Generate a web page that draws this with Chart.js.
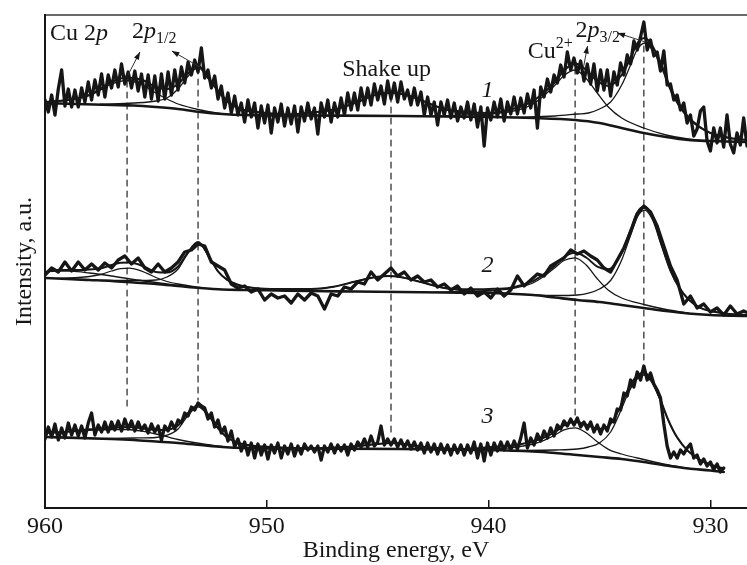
<!DOCTYPE html>
<html>
<head>
<meta charset="utf-8">
<script src="https://cdn.jsdelivr.net/npm/chart.js@4.4.1/dist/chart.umd.min.js"></script>
<style>
  html, body { margin: 0; padding: 0; background: #fff; }
  canvas { display: block; }
</style>
</head>
<body>
<canvas id="xps" width="747" height="565"></canvas>
<script>
// Cu 2p XPS spectra, three samples stacked (intensity in arbitrary units incl. offset)

const xMin = 928.35;
const xMax = 960;
const xTicks = [960, 950, 940, 930];

// energy grids of the measured spectra, eV
const energyFine = [960, 959.85, 959.7, 959.55, 959.4, 959.25, 959.1, 958.95, 958.8, 958.65,
  958.5, 958.35, 958.2, 958.05, 957.9, 957.75, 957.6, 957.45, 957.3, 957.15,
  957, 956.85, 956.7, 956.55, 956.4, 956.25, 956.1, 955.95, 955.8, 955.65,
  955.5, 955.35, 955.2, 955.05, 954.9, 954.75, 954.6, 954.45, 954.3, 954.15,
  954, 953.85, 953.7, 953.55, 953.4, 953.25, 953.1, 952.95, 952.8, 952.65,
  952.5, 952.35, 952.2, 952.05, 951.9, 951.75, 951.6, 951.45, 951.3, 951.15,
  951, 950.85, 950.7, 950.55, 950.4, 950.25, 950.1, 949.95, 949.8, 949.65,
  949.5, 949.35, 949.2, 949.05, 948.9, 948.75, 948.6, 948.45, 948.3, 948.15,
  948, 947.85, 947.7, 947.55, 947.4, 947.25, 947.1, 946.95, 946.8, 946.65,
  946.5, 946.35, 946.2, 946.05, 945.9, 945.75, 945.6, 945.45, 945.3, 945.15,
  945, 944.85, 944.7, 944.55, 944.4, 944.25, 944.1, 943.95, 943.8, 943.65,
  943.5, 943.35, 943.2, 943.05, 942.9, 942.75, 942.6, 942.45, 942.3, 942.15,
  942, 941.85, 941.7, 941.55, 941.4, 941.25, 941.1, 940.95, 940.8, 940.65,
  940.5, 940.35, 940.2, 940.05, 939.9, 939.75, 939.6, 939.45, 939.3, 939.15,
  939, 938.85, 938.7, 938.55, 938.4, 938.25, 938.1, 937.95, 937.8, 937.65,
  937.5, 937.35, 937.2, 937.05, 936.9, 936.75, 936.6, 936.45, 936.3, 936.15,
  936, 935.85, 935.7, 935.55, 935.4, 935.25, 935.1, 934.95, 934.8, 934.65,
  934.5, 934.35, 934.2, 934.05, 933.9, 933.75, 933.6, 933.45, 933.3, 933.15,
  933, 932.85, 932.7, 932.55, 932.4, 932.25, 932.1, 931.95, 931.8, 931.65,
  931.5, 931.35, 931.2, 931.05, 930.9, 930.75, 930.6, 930.45, 930.3, 930.15,
  930, 929.85, 929.7, 929.55, 929.4, 929.25, 929.1, 928.95, 928.8, 928.65,
  928.5, 928.35, 928.2];
const energyCoarse = [960, 959.7, 959.4, 959.1, 958.8, 958.5, 958.2, 957.9, 957.6, 957.3,
  957, 956.7, 956.4, 956.1, 955.8, 955.5, 955.2, 954.9, 954.6, 954.3,
  954, 953.7, 953.4, 953.1, 952.8, 952.5, 952.2, 951.9, 951.6, 951.3,
  951, 950.7, 950.4, 950.1, 949.8, 949.5, 949.2, 948.9, 948.6, 948.3,
  948, 947.7, 947.4, 947.1, 946.8, 946.5, 946.2, 945.9, 945.6, 945.3,
  945, 944.7, 944.4, 944.1, 943.8, 943.5, 943.2, 942.9, 942.6, 942.3,
  942, 941.7, 941.4, 941.1, 940.8, 940.5, 940.2, 939.9, 939.6, 939.3,
  939, 938.7, 938.4, 938.1, 937.8, 937.5, 937.2, 936.9, 936.6, 936.3,
  936, 935.7, 935.4, 935.1, 934.8, 934.5, 934.2, 933.9, 933.6, 933.3,
  933, 932.7, 932.4, 932.1, 931.8, 931.5, 931.2, 930.9, 930.6, 930.3,
  930, 929.7, 929.4, 929.1, 928.8, 928.5, 928.2];

// measured intensities (spectra 1 and 3 on the fine grid, 2 on the coarse grid)
const raw1 = [408, 396, 413, 393, 419, 438, 402, 419, 401, 418,
  401, 420, 406, 426, 408, 428, 413, 434, 411, 433,
  420, 438, 421, 444, 424, 436, 420, 437, 417, 434,
  411, 433, 409, 432, 407, 434, 409, 436, 413, 438,
  418, 441, 425, 446, 433, 448, 436, 460, 430, 438,
  420, 432, 409, 422, 400, 415, 395, 412, 393, 405,
  386, 408, 391, 405, 380, 402, 385, 403, 375, 400,
  386, 404, 382, 400, 384, 402, 376, 401, 387, 405,
  389, 400, 374, 405, 391, 408, 386, 405, 391, 410,
  393, 415, 398, 415, 398, 420, 403, 420, 403, 424,
  408, 422, 404, 427, 409, 425, 406, 426, 409, 418,
  403, 420, 403, 416, 393, 411, 393, 406, 383, 406,
  393, 408, 390, 405, 387, 401, 390, 406, 388, 404,
  381, 401, 362, 400, 388, 406, 391, 409, 387, 406,
  394, 411, 394, 410, 395, 414, 400, 418, 380, 421,
  411, 429, 416, 433, 425, 443, 431, 456, 438, 450,
  435, 447, 427, 444, 424, 444, 417, 438, 418, 438,
  412, 436, 423, 445, 433, 453, 444, 467, 458, 471,
  486, 458, 468, 452, 456, 437, 457, 423, 424, 408,
  413, 398, 405, 385, 393, 372, 379, 397, 401, 367,
  357, 380, 365, 380, 361, 393, 364, 355, 375, 363,
  390, 362, 372];
const raw2 = [233, 240, 236, 246, 237, 246, 238, 244, 238, 245,
  240, 248, 252, 244, 250, 240, 236, 244, 236, 240,
  246, 256, 258, 264, 262, 246, 242, 238, 224, 220,
  222, 216, 219, 208, 214, 210, 212, 205, 214, 208,
  215, 212, 199, 214, 212, 221, 219, 226, 224, 236,
  228, 234, 240, 232, 236, 228, 232, 226, 228, 221,
  224, 218, 222, 214, 220, 212, 216, 210, 219, 212,
  218, 232, 222, 228, 234, 232, 242, 246, 250, 258,
  254, 257, 252, 248, 240, 236, 248, 260, 276, 294,
  302, 296, 282, 262, 242, 228, 204, 212, 200, 204,
  196, 200, 193, 202, 194, 197, 194];
const raw3 = [69, 81, 71, 84, 68, 80, 70, 85, 73, 83,
  72, 82, 70, 85, 95, 73, 83, 76, 86, 76,
  86, 78, 87, 77, 89, 79, 87, 77, 86, 78,
  83, 75, 84, 76, 82, 68, 82, 77, 86, 79,
  88, 85, 95, 92, 101, 98, 105, 102, 100, 89,
  95, 81, 88, 75, 81, 67, 77, 61, 69, 57,
  66, 53, 65, 50, 64, 53, 63, 49, 63, 55,
  65, 50, 62, 54, 64, 52, 62, 54, 64, 58,
  62, 56, 62, 48, 62, 56, 64, 55, 63, 57,
  63, 53, 64, 58, 66, 61, 69, 61, 72, 62,
  66, 82, 63, 69, 63, 69, 61, 68, 60, 67,
  59, 66, 58, 65, 55, 65, 56, 64, 54, 64,
  55, 63, 53, 63, 55, 63, 53, 63, 55, 66,
  50, 64, 47, 65, 53, 65, 57, 66, 58, 66,
  58, 67, 59, 70, 85, 60, 70, 63, 74, 67,
  77, 70, 80, 72, 83, 79, 87, 82, 89, 83,
  90, 81, 86, 79, 86, 76, 83, 74, 83, 77,
  89, 86, 99, 98, 115, 112, 128, 121, 136, 128,
  142, 128, 135, 124, 118, 110, 84, 62, 50, 56,
  50, 58, 54, 60, 64, 50, 53, 44, 49, 42,
  46, 38, 44, 36, 40];

// fitted curves, [energy, intensity]
const bg1 = [[960, 405], [957, 403], [956, 402.5], [955, 401], [954, 399], [953, 396], [952, 394], [951, 393], [948, 392.5], [944, 392], [940, 391], [938, 390], [936.1, 388], [935, 385], [934, 380], [933, 375], [932, 371], [931, 368], [930, 367], [928.3, 366]];
const s1Peak956 = [[960, 406], [959, 408], [958, 412.5], [957.5, 418], [957, 424], [956.3, 427.5], [955.6, 423], [955, 415], [954.5, 409], [954, 404], [953, 398], [952, 394]];
const s1Peak953 = [[957.5, 403.8], [956, 405], [955, 407], [954.5, 410], [954, 419], [953.6, 430.5], [953.1, 440.5], [952.6, 428], [952.1, 414], [951.6, 403.5], [951, 398], [950, 394.8], [949, 393]];
const s1Shake = [[950, 392.9], [949, 393.5], [948, 395.5], [947, 398.3], [946.5, 401.2], [946, 405.2], [945.5, 410.1], [945, 413.6], [944.4, 415], [943.8, 413.5], [943.3, 410], [942.8, 405], [942.3, 400.8], [941.8, 397.7], [941, 394.3], [940, 392], [939, 390.6]];
const s1Cu2 = [[942.5, 391.6], [941, 393.2], [940, 394], [939, 396.5], [938.5, 399.2], [938, 404], [937.5, 412.5], [937, 423], [936.6, 432.5], [936.1, 438], [935.6, 429.5], [935.1, 415], [934.6, 401], [934, 390], [933, 380], [932, 373], [931, 369], [930, 367.2]];
const s1Cu1 = [[939, 390.5], [937, 392], [936, 394], [935.5, 395], [935, 399], [934.5, 406], [934, 423], [933.6, 443], [933.3, 458.5], [932.95, 465], [932.6, 457.5], [932.2, 440], [931.8, 417.5], [931.4, 401], [931, 390], [930.5, 380.5], [930, 375], [929.5, 371.8], [929, 369.5], [928.3, 368]];
const s1Env = [[960, 406], [959, 408], [958, 413], [957, 426], [956.3, 430.5], [955.6, 428], [955, 421], [954.5, 419], [954, 424], [953.6, 433.5], [953.1, 442.5], [952.6, 429], [952.1, 414.5], [951.6, 403.5], [951, 398], [950, 395], [949, 393.5], [948, 395.5], [947, 398.3], [946, 405.2], [945, 413.6], [944.4, 415], [943.8, 413.5], [943, 407.5], [942, 399], [941, 396], [940, 395], [939, 398.5], [938.5, 401.7], [938, 407], [937.5, 415.5], [937, 426], [936.6, 437.5], [936.1, 444.5], [935.6, 438], [935.1, 427], [934.6, 422], [934, 433], [933.6, 450], [933.3, 464.5], [932.95, 470], [932.6, 461.5], [932.2, 443], [931.8, 420], [931.4, 403], [931, 391], [930.5, 381.5], [930, 375], [929.5, 371.8], [929, 369.5], [928.3, 368]];

const bg2 = [[960, 230], [959, 229], [958, 228], [957, 227], [956, 225.5], [955, 224], [954, 222], [953, 220], [952, 218.5], [951, 218], [950, 217.7], [948, 217], [946, 216.5], [944, 216], [942, 215.5], [940, 215], [939, 214.2], [938, 213], [937, 210.5], [936, 208], [935, 206], [934, 203], [933, 200], [932, 197], [931, 194.5], [930, 193], [929, 192.3], [928.3, 192]];
const s2Peak958 = [[960, 236], [959.5, 237], [958.8, 236.8], [958, 235], [957, 232], [956, 228.5], [955, 225.5], [954, 222.5]];
const s2Peak956 = [[959.5, 229.7], [958.5, 230.5], [958, 231.5], [957.5, 233.5], [957, 237], [956.6, 239.4], [956.2, 239.8], [955.8, 238.2], [955.4, 234.6], [955, 230.5], [954.5, 226.5], [954, 224], [953, 220.5]];
const s2Peak953 = [[957.5, 227.6], [956, 227.5], [955, 228], [954.5, 231], [954, 239], [953.6, 253.2], [953.1, 265.2], [952.6, 251.2], [952.2, 236.6], [951.8, 228.4], [951.3, 223.2], [950.5, 219.8], [949.5, 218.5], [948.5, 217.2]];
const s2Shake = [[950.5, 217.8], [949, 218.3], [948, 219], [947, 221.2], [946.5, 223.6], [946, 226.5], [945.5, 229.4], [945, 231.2], [944.5, 232.1], [944, 231], [943.5, 228.9], [943, 225.7], [942.5, 222.6], [942, 220], [941, 217.2], [940, 216], [938.8, 214]];
const s2Cu2 = [[942.5, 215.6], [941, 216.7], [940, 217.5], [939, 219.2], [938.5, 221.6], [938, 225], [937.5, 231.7], [937, 240.5], [936.6, 247.5], [936.1, 250.2], [935.6, 243], [935.1, 229.3], [934.6, 217.8], [934, 210], [933, 203.5], [932, 198.5], [931, 195]];
const s2Cu1 = [[938.5, 213.7], [937, 212.5], [936, 213], [935.5, 214.8], [935, 219], [934.5, 227.5], [934, 248], [933.6, 272.8], [933.3, 290.9], [932.97, 297.9], [932.6, 287.8], [932.2, 261.6], [931.8, 236.5], [931.4, 219.5], [931, 208.5], [930.5, 200.7], [930, 197], [929.5, 195.1], [929, 193.8], [928.3, 193]];
const s2Env = [[960, 236], [959.5, 238], [959, 238], [958.5, 238], [958, 238.5], [957.5, 239.5], [957, 243], [956.6, 245.3], [956.2, 245.4], [955.8, 243.8], [955.4, 240], [955, 236], [954.5, 235.5], [954, 241.5], [953.6, 254.2], [953.1, 266], [952.6, 251.2], [952.2, 236.6], [951.8, 228.4], [951.3, 223.2], [950.5, 219.8], [949.5, 219], [948, 219], [947, 221.2], [946, 226.5], [945, 231.2], [944.5, 232.1], [944, 231], [943, 225.7], [942, 220], [941, 218.7], [940, 219], [939, 220.2], [938.5, 223.1], [938, 226.8], [937.5, 233.9], [937, 242.5], [936.6, 251], [936.1, 255.2], [935.6, 250.5], [935.1, 241.3], [934.6, 238.8], [934, 255], [933.6, 278.3], [933.3, 295.4], [932.97, 301.4], [932.6, 290.8], [932.2, 263.6], [931.8, 238], [931.4, 220.5], [931, 209], [930.5, 200.7], [930, 197], [929.5, 195.1], [929, 193.8], [928.3, 193]];

const bg3 = [[960, 71], [957, 69], [956, 68], [955, 66.5], [954, 65], [953, 63], [952, 61], [951, 60], [948, 59.5], [944, 59], [940, 58], [938, 56.5], [937, 55], [936, 53], [935, 51], [934, 49], [933, 46], [932, 42.5], [931, 39.5], [930, 37.5], [929.4, 36]];
const s3Peak956 = [[960, 75], [959, 76.3], [958, 77.7], [957, 78.5], [956.3, 78.5], [955.5, 76.3], [955, 74], [954.5, 71.3], [954, 68.5], [953, 64.5], [952, 61.5]];
const s3Peak953 = [[957.5, 69.3], [956, 70], [955, 70.5], [954.5, 72.8], [954, 79], [953.6, 91.2], [953.1, 101.2], [952.6, 91.2], [952.2, 79.4], [951.8, 70.8], [951.3, 65.3], [950.5, 61.9], [949.5, 60.7], [948.5, 59.6]];
const s3Shake = [[948.5, 59.6], [947, 60.4], [946, 61.7], [945, 64.1], [944.4, 65], [943.8, 63.9], [943, 61.2], [942, 59.5], [940.8, 58.2]];
const s3Cu2 = [[941.5, 58.4], [940, 59.5], [939, 60.2], [938.5, 61.8], [938, 64], [937.5, 67.7], [937, 73], [936.6, 78.2], [936.1, 80.2], [935.6, 75.2], [935.1, 66.2], [934.6, 58.7], [934, 54], [933, 48.5], [932, 43.5], [931, 39.7]];
const s3Cu1 = [[939, 57.6], [937, 58], [936, 59], [935.5, 61], [935, 65], [934.5, 76], [934.1, 94.2], [933.7, 115.1], [933.35, 128], [933, 133], [932.65, 125.8], [932.3, 109.5], [931.9, 87.2], [931.5, 70], [931, 56.5], [930.5, 48.5], [930, 43.5], [929.4, 38.5]];
const s3Env = [[960, 75], [959, 76.3], [958, 78.7], [957, 80], [956.3, 81], [955.5, 79.3], [955, 78], [954.5, 78.3], [954, 82.5], [953.6, 93.7], [953.1, 102.8], [952.6, 92.2], [952.2, 80], [951.8, 70.8], [951.3, 65.3], [950.5, 61.9], [949.5, 60.7], [948, 59.5], [947, 60.4], [946, 61.7], [945, 64.1], [944.4, 65], [943.8, 63.9], [943, 61.2], [942, 59.5], [941, 59], [940, 60.8], [939, 62.2], [938.5, 64.1], [938, 66.6], [937.5, 70.5], [937, 76], [936.6, 82.7], [936.1, 86], [935.6, 83.6], [935.1, 79.2], [934.6, 81.7], [934.1, 99.4], [933.7, 119.1], [933.35, 131.3], [933, 135.5], [932.65, 127.8], [932.3, 111], [931.9, 88.2], [931.5, 70.7], [931, 56.9], [930.5, 48.5], [930, 43.5], [929.4, 39.5]];

// dashed peak markers
const markerEnergy = [956.3, 953.1, 944.4, 936.1, 933.0];
const markerTop = [427, 440, 412, 440, 462];
const markerBottom = [97, 108, 73, 88, 148];

const ink = "#161616";
const serif = "'Liberation Serif', 'Times New Roman', serif";

const toPts = (pairs) => pairs.map((p) => ({ x: p[0], y: p[1] }));
const zipPts = (grid, vals) => vals.map((v, i) => ({ x: grid[i], y: v }));

const datasets = [];
function addRaw(grid, vals) {
  datasets.push({ data: zipPts(grid, vals), borderColor: ink, borderWidth: 3.3, tension: 0, order: 1 });
}
function addFit(pairs, width) {
  datasets.push({ data: toPts(pairs), borderColor: ink, borderWidth: width, cubicInterpolationMode: "monotone", order: 2 });
}

addRaw(energyFine, raw1);
addRaw(energyCoarse, raw2);
addRaw(energyFine, raw3);
[s1Env, s2Env, s3Env].forEach((d) => addFit(d, 2));
[bg1, bg2, bg3].forEach((d) => addFit(d, 2.6));
[s1Peak956, s1Peak953, s1Shake, s1Cu2, s1Cu1,
 s2Peak958, s2Peak956, s2Peak953, s2Shake, s2Cu2, s2Cu1,
 s3Peak956, s3Peak953, s3Shake, s3Cu2, s3Cu1].forEach((d) => addFit(d, 1.3));

markerEnergy.forEach((e, i) => {
  datasets.push({
    data: [{ x: e, y: markerTop[i] }, { x: e, y: markerBottom[i] }],
    borderColor: "#222", borderWidth: 1.2, borderDash: [6, 5], order: 5,
  });
});

// labels: [energy, intensity] of the text anchor
const notes = [
  { at: [959.77, 468], align: "left", parts: [["Cu 2", 24, 0, false], ["p", 24, 0, true]] },
  { at: [956.08, 470], align: "left", parts: [["2", 24, 0, false], ["p", 24, 0, true], ["1/2", 16, 5, false]] },
  { at: [944.6, 432], align: "center", parts: [["Shake up", 24, 0, false]] },
  { at: [940.05, 411], align: "center", parts: [["1", 24, 0, true]] },
  { at: [938.24, 450], align: "left", parts: [["Cu", 24, 0, false], ["2+", 16, -10, false]] },
  { at: [936.08, 471], align: "left", parts: [["2", 24, 0, false], ["p", 24, 0, true], ["3/2", 16, 5, false]] },
  { at: [940.05, 236], align: "center", parts: [["2", 24, 0, true]] },
  { at: [940.05, 85], align: "center", parts: [["3", 24, 0, true]] },
];
// arrows: from [energy, intensity] to [energy, intensity]
const arrows = [
  [[956.26, 433], [955.72, 456]],
  [[953.02, 441], [954.28, 457]],
  [[935.72, 441], [935.54, 462]],
  [[932.93, 466], [934.19, 475]],
];

const notesPlugin = {
  id: "notes",
  afterDatasetsDraw(chart) {
    const { ctx, scales } = chart;
    const px = (e) => scales.x.getPixelForValue(e);
    const py = (v) => scales.y.getPixelForValue(v);
    ctx.save();
    ctx.fillStyle = ink;
    ctx.textBaseline = "alphabetic";
    notes.forEach((n) => {
      const widths = n.parts.map((p) => {
        ctx.font = (p[3] ? "italic " : "") + p[1] + "px " + serif;
        return ctx.measureText(p[0]).width;
      });
      const total = widths.reduce((a, b) => a + b, 0);
      let x = px(n.at[0]);
      if (n.align === "center") x -= total / 2;
      const y = py(n.at[1]);
      ctx.textAlign = "left";
      n.parts.forEach((p, i) => {
        ctx.font = (p[3] ? "italic " : "") + p[1] + "px " + serif;
        ctx.fillText(p[0], x, y + p[2]);
        x += widths[i];
      });
    });
    ctx.strokeStyle = "#333";
    ctx.lineWidth = 1;
    arrows.forEach((a) => {
      const x1 = px(a[0][0]), y1 = py(a[0][1]);
      const x2 = px(a[1][0]), y2 = py(a[1][1]);
      ctx.beginPath();
      ctx.moveTo(x1, y1);
      ctx.lineTo(x2, y2);
      ctx.stroke();
      const ang = Math.atan2(y2 - y1, x2 - x1);
      ctx.beginPath();
      ctx.moveTo(x2, y2);
      ctx.lineTo(x2 - 8 * Math.cos(ang - 0.35), y2 - 8 * Math.sin(ang - 0.35));
      ctx.lineTo(x2 - 8 * Math.cos(ang + 0.35), y2 - 8 * Math.sin(ang + 0.35));
      ctx.closePath();
      ctx.fill();
    });
    ctx.restore();
  },
};

new Chart(document.getElementById("xps").getContext("2d"), {
  type: "line",
  data: { datasets },
  options: {
    responsive: false,
    animation: false,
    devicePixelRatio: 1,
    layout: { padding: 0 },
    elements: {
      point: { radius: 0, hoverRadius: 0 },
      line: { borderJoinStyle: "round", borderCapStyle: "round", fill: false },
    },
    scales: {
      x: {
        type: "linear",
        position: "bottom",
        reverse: true,
        min: xMin,
        max: xMax,
        afterBuildTicks: (scale) => { scale.ticks = xTicks.map((v) => ({ value: v })); },
        afterFit: (scale) => { scale.height = 57; },
        ticks: { color: ink, font: { family: serif, size: 24 }, padding: 12, maxRotation: 0, autoSkip: false },
        grid: { display: true, drawOnChartArea: false, drawTicks: true, tickLength: -8, color: ink, lineWidth: 1.5 },
        border: { display: true, color: ink, width: 2 },
        title: { display: true, text: "Binding energy, eV", color: ink, font: { family: serif, size: 24 }, padding: { top: 0, bottom: 0 } },
      },
      xTop: {
        type: "linear",
        position: "top",
        reverse: true,
        min: xMin,
        max: xMax,
        afterFit: (scale) => { scale.height = 15; },
        ticks: { display: false },
        grid: { display: false },
        border: { display: true, color: "#6a6a6a", width: 2 },
      },
      y: {
        type: "linear",
        min: 0,
        max: 493,
        afterFit: (scale) => { scale.width = 45; },
        ticks: { display: false },
        grid: { display: false },
        border: { display: true, color: ink, width: 2 },
        title: { display: true, text: "Intensity, a.u.", color: ink, font: { family: serif, size: 24 }, padding: { top: 10, bottom: 0 } },
      },
    },
    plugins: {
      legend: { display: false },
      tooltip: { enabled: false },
    },
  },
  plugins: [notesPlugin],
});
</script>
</body>
</html>
